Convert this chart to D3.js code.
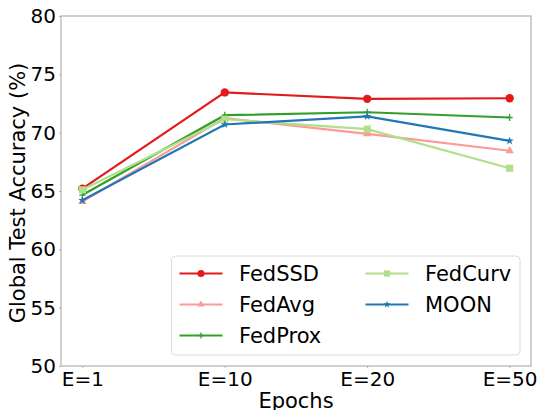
<!DOCTYPE html>
<html>
<head>
<meta charset="utf-8">
<script src="https://cdn.jsdelivr.net/npm/d3@7"></script>
<style>
  body { margin: 0; background: #fff; }
  text { font-family: "DejaVu Sans", sans-serif; fill: #000; }
</style>
</head>
<body>
<div id="chart"></div>
<script>
// chart values
const epochs = ["E=1", "E=10", "E=20", "E=50"];
const yTicks = [50, 55, 60, 65, 70, 75, 80];
const fedSSD  = [65.2, 73.45, 72.9, 72.95];
const fedAvg  = [64.1, 71.25, 69.9, 68.45];
const fedProx = [64.65, 71.5, 71.75, 71.3];
const fedCurv = [65.1, 71.15, 70.3, 66.95];
const moon    = [64.2, 70.7, 71.4, 69.3];

const series = [
    { name: "FedSSD", values: fedSSD, color: "#e31a1c", marker: "circle" },
    { name: "FedAvg", values: fedAvg, color: "#fb9a99", marker: "triangle" },
    { name: "FedProx", values: fedProx, color: "#33a02c", marker: "plus" },
    { name: "FedCurv", values: fedCurv, color: "#b2df8a", marker: "square" },
    { name: "MOON", values: moon, color: "#1f78b4", marker: "star" }
];

const W = 538, H = 410;
const margin = { top: 16, right: 7, bottom: 44, left: 61 };
const width = W - margin.left - margin.right,
      height = H - margin.top - margin.bottom;

const svg = d3.select("#chart").append("svg")
    .attr("width", W)
    .attr("height", H);

const g = svg.append("g")
    .attr("transform", `translate(${margin.left},${margin.top})`);

const x = d3.scalePoint()
    .domain(epochs)
    .range([0, width])
    .padding(0.15);

const y = d3.scaleLinear()
    .domain([50, 80])
    .range([height, 0]);

// axes
const xAxis = g.append("g")
    .attr("transform", `translate(0,${height})`)
    .call(d3.axisBottom(x).tickSize(2).tickPadding(4));
const yAxis = g.append("g")
    .call(d3.axisLeft(y).tickValues(yTicks).tickSize(2).tickPadding(3));

[xAxis, yAxis].forEach(ax => {
    ax.select(".domain").remove();
    ax.selectAll("line").attr("stroke", "#b0b0b0");
    ax.selectAll("text")
        .style("font-family", "DejaVu Sans, sans-serif")
        .style("font-size", "20px")
        .attr("fill", "#000");
});

// frame
g.append("rect")
    .attr("width", width)
    .attr("height", height)
    .attr("fill", "none")
    .attr("stroke", "#b0b0b0")
    .attr("stroke-width", 1.2);

function drawMarker(sel, type, color, s) {
    if (type === "circle") {
        sel.append("circle").attr("r", 4.2 * s).attr("fill", color);
    } else if (type === "square") {
        sel.append("rect").attr("x", -3.6 * s).attr("y", -3.6 * s)
            .attr("width", 7.2 * s).attr("height", 7.2 * s).attr("fill", color);
    } else if (type === "triangle") {
        sel.append("path").attr("d", d3.symbol(d3.symbolTriangle, 30 * s * s)()).attr("fill", color);
    } else if (type === "star") {
        sel.append("path").attr("d", d3.symbol(d3.symbolStar, 22 * s * s)()).attr("fill", color);
    } else if (type === "plus") {
        sel.append("path").attr("d", `M${-3 * s},0H${3 * s}M0,${-3.5 * s}V${3.5 * s}`)
            .attr("stroke", color).attr("stroke-width", 1.3);
    }
}

const line = d3.line()
    .x((d, i) => x(epochs[i]))
    .y(d => y(d));

series.forEach(s => {
    const sg = g.append("g");
    sg.append("path")
        .datum(s.values)
        .attr("d", line)
        .attr("fill", "none")
        .attr("stroke", s.color)
        .attr("stroke-width", 2.2);
    s.values.forEach((v, i) => {
        const m = sg.append("g").attr("transform", `translate(${x(epochs[i])},${y(v)})`);
        drawMarker(m, s.marker, s.color, 1);
    });
});

// legend
const legend = g.append("g").attr("transform", `translate(${171.5 - margin.left},${256 - margin.top})`);
legend.append("rect")
    .attr("width", 348.5)
    .attr("height", 99)
    .attr("rx", 4)
    .attr("fill", "#fff")
    .attr("fill-opacity", 0.85)
    .attr("stroke", "#dcdcdc");

series.forEach((s, i) => {
    const col = Math.floor(i / 3), row = i % 3;
    const item = legend.append("g")
        .attr("transform", `translate(${8 + col * 186},${17.5 + row * 31})`);
    item.append("line")
        .attr("x1", 0).attr("x2", 43)
        .attr("stroke", s.color).attr("stroke-width", 2.2);
    const m = item.append("g").attr("transform", "translate(21.5,0)");
    drawMarker(m, s.marker, s.color, 0.85);
    item.append("text")
        .attr("x", 59.5)
        .attr("dy", "0.36em")
        .style("font-size", "21px")
        .text(s.name);
});

// axis titles
g.append("text")
    .attr("x", width / 2)
    .attr("y", height + 42)
    .attr("text-anchor", "middle")
    .style("font-size", "21px")
    .text("Epochs");

g.append("text")
    .attr("transform", `translate(${17 - margin.left},${height / 2 + 2}) rotate(-90)`)
    .attr("text-anchor", "middle")
    .attr("dy", "0.36em")
    .style("font-size", "21px")
    .text("Global Test Accuracy (%)");
</script>
</body>
</html>
